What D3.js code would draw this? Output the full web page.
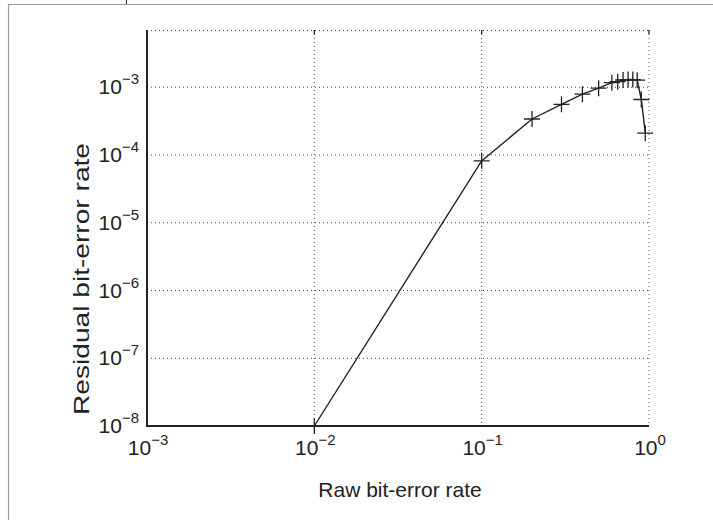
<!DOCTYPE html>
<html>
<head>
<meta charset="utf-8">
<script src="https://cdn.jsdelivr.net/npm/d3@7"></script>
<style>
  body { margin: 0; background: #fff; }
  text { font-family: "Liberation Sans", Arial, Helvetica, sans-serif; fill: #222; }
</style>
</head>
<body>
<div id="chart"></div>
<script>
// raw vs residual bit-error rate (log-log)
var rawBER = [0.01, 0.1, 0.2, 0.3, 0.4, 0.5, 0.6, 0.65, 0.7, 0.75, 0.8, 0.85, 0.9, 0.95];
var residualBER = [1e-8, 8.2e-5, 3.4e-4, 5.6e-4, 7.9e-4, 9.7e-4, 1.17e-3, 1.21e-3, 1.28e-3, 1.3e-3, 1.3e-3, 1.27e-3, 6.6e-4, 2.1e-4];

var xTickExp = [-3, -2, -1, 0];
var yTickExp = [-8, -7, -6, -5, -4, -3];

var width = 713, height = 520;
var margin = { top: 30, right: 64, bottom: 94, left: 147 };
var chartWidth = width - margin.left - margin.right;
var chartHeight = height - margin.top - margin.bottom;

var svg = d3.select("#chart").append("svg")
    .attr("width", width)
    .attr("height", height);

// page frame
svg.append("path")
    .attr("d", "M8.5,530 V4.5 H720")
    .attr("fill", "none")
    .attr("stroke", "#9a9a9a")
    .attr("stroke-width", 1.2);
svg.append("line")
    .attr("x1", 126.5).attr("x2", 126.5)
    .attr("y1", 0).attr("y2", 4)
    .attr("stroke", "#333");

var chartGroup = svg.append("g")
    .attr("transform", `translate(${margin.left}, ${margin.top})`);

var xScale = d3.scaleLog()
    .domain([1e-3, 1])
    .range([0, chartWidth]);

var yScale = d3.scaleLog()
    .domain([1e-8, 7e-3])
    .range([chartHeight, 0]);

// dotted grid
var gridColor = "#444";
chartGroup.append("g").selectAll("line")
    .data(xTickExp.slice(1))
    .enter().append("line")
    .attr("x1", d => xScale(Math.pow(10, d)))
    .attr("x2", d => xScale(Math.pow(10, d)))
    .attr("y1", 0).attr("y2", chartHeight)
    .attr("stroke", gridColor)
    .attr("stroke-dasharray", "1,3");

chartGroup.append("g").selectAll("line")
    .data(yTickExp.slice(1))
    .enter().append("line")
    .attr("x1", 0).attr("x2", chartWidth)
    .attr("y1", d => yScale(Math.pow(10, d)))
    .attr("y2", d => yScale(Math.pow(10, d)))
    .attr("stroke", gridColor)
    .attr("stroke-dasharray", "1,3");

// top border is dotted too
chartGroup.append("line")
    .attr("x1", 0).attr("x2", chartWidth)
    .attr("y1", 0.5).attr("y2", 0.5)
    .attr("stroke", gridColor)
    .attr("stroke-dasharray", "1,3");

// small ticks along the top
chartGroup.append("g").selectAll("line")
    .data(xTickExp)
    .enter().append("line")
    .attr("x1", d => xScale(Math.pow(10, d)))
    .attr("x2", d => xScale(Math.pow(10, d)))
    .attr("y1", 0).attr("y2", 4)
    .attr("stroke", "#222")
    .attr("stroke-width", 1.3);

// solid left / bottom axes
chartGroup.append("line")
    .attr("x1", 0).attr("x2", 0)
    .attr("y1", 0).attr("y2", chartHeight + 1)
    .attr("stroke", "#222").attr("stroke-width", 2);
chartGroup.append("line")
    .attr("x1", -1).attr("x2", chartWidth)
    .attr("y1", chartHeight).attr("y2", chartHeight)
    .attr("stroke", "#222").attr("stroke-width", 2);

// x tick labels 10^n
var xLabels = chartGroup.append("g").selectAll("text")
    .data(xTickExp)
    .enter().append("text")
    .attr("x", d => xScale(Math.pow(10, d)) + 1)
    .attr("y", chartHeight + 29)
    .attr("text-anchor", "middle")
    .style("font-size", "21px");
xLabels.append("tspan").text("10");
xLabels.append("tspan")
    .attr("dy", -10)
    .style("font-size", "15px")
    .text(d => d < 0 ? "\u2212" + (-d) : d);

// y tick labels
var yLabels = chartGroup.append("g").selectAll("text")
    .data(yTickExp)
    .enter().append("text")
    .attr("x", -8)
    .attr("y", d => yScale(Math.pow(10, d)) + 7)
    .attr("text-anchor", "end")
    .style("font-size", "21px");
yLabels.append("tspan").text("10");
yLabels.append("tspan")
    .attr("dy", -10)
    .style("font-size", "15px")
    .text(d => d < 0 ? "\u2212" + (-d) : d);

// data line
var line = d3.line()
    .x((d, i) => xScale(rawBER[i]))
    .y((d, i) => yScale(residualBER[i]));

chartGroup.append("path")
    .datum(rawBER)
    .attr("d", line)
    .attr("fill", "none")
    .attr("stroke", "#222")
    .attr("stroke-width", 1.4);

// plus markers
chartGroup.append("g").selectAll("path")
    .data(rawBER)
    .enter().append("path")
    .attr("d", function (d, i) {
        var cx = xScale(d), cy = yScale(residualBER[i]), r = 8;
        return `M${cx - r},${cy}H${cx + r}M${cx},${cy - r}V${cy + r}`;
    })
    .attr("stroke", "#222")
    .attr("stroke-width", 1.3);

// axis titles
svg.append("text")
    .attr("x", margin.left + chartWidth / 2 + 2)
    .attr("y", 497)
    .attr("text-anchor", "middle")
    .style("font-size", "21px")
    .text("Raw bit-error rate");

svg.append("text")
    .attr("transform", "translate(89, 279) rotate(-90)")
    .attr("text-anchor", "middle")
    .attr("textLength", 272)
    .attr("lengthAdjust", "spacingAndGlyphs")
    .style("font-size", "22px")
    .text("Residual bit-error rate");
</script>
</body>
</html>
